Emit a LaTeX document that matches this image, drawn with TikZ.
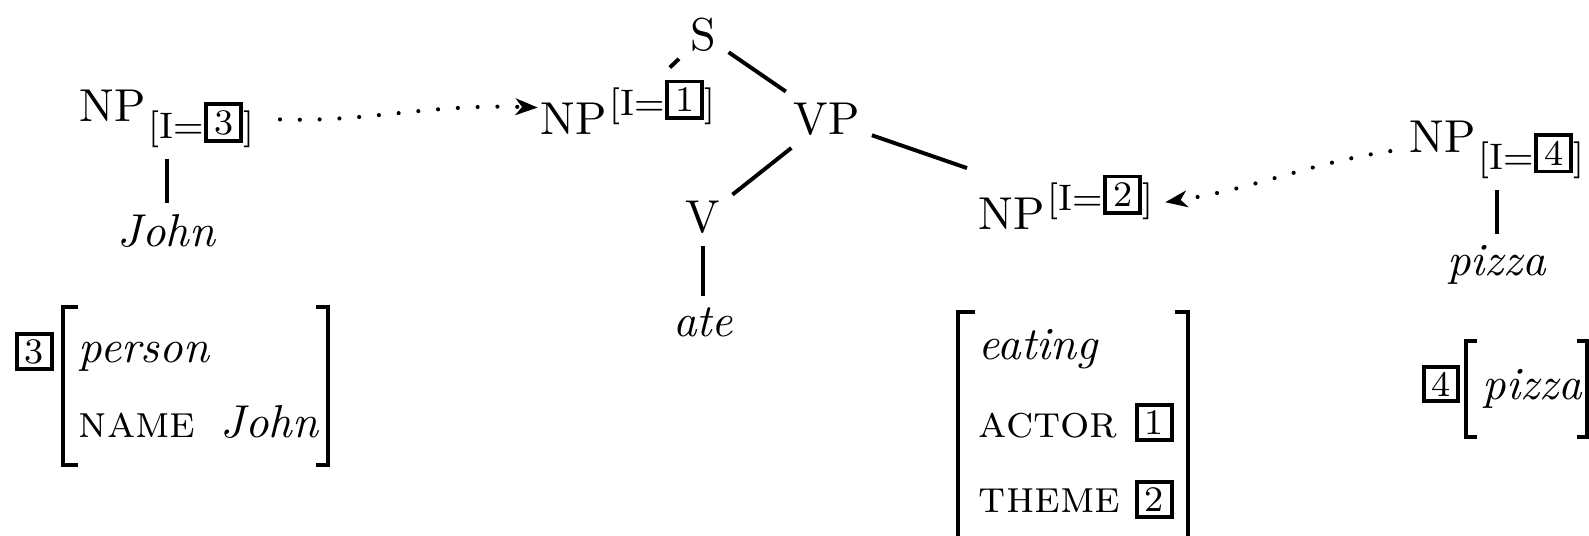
\documentclass[tikz,border=0pt]{standalone}
\usetikzlibrary{arrows.meta}
\newcommand\tagbox[1]{\raisebox{0.8pt}{\fboxsep=0.9pt\fboxrule=0.85pt\fbox{\makebox[5pt]{\fontsize{7.8}{8}\selectfont #1}}}}
\newcommand\featlab[1]{{\fontsize{8}{9}\selectfont[I=\tagbox{#1}]}}
\newcommand\NPsub[1]{NP\hspace{0.6pt}\raisebox{-3.5pt}{\featlab{#1}}}
\newcommand\NPsup[1]{NP\hspace{0.6pt}\raisebox{4.3pt}{\featlab{#1}}}
\begin{document}
\begin{tikzpicture}[x=0.217pt,y=-0.217pt,
  tn/.style={inner sep=2.4pt,anchor=base west},
  leaf/.style={inner sep=2.4pt,anchor=base},
  txt/.style={inner sep=0pt,anchor=base west},
  tagnode/.style={draw,line width=0.85pt,inner sep=0pt,minimum size=7.5pt,font=\fontsize{7.8}{8}\selectfont},
  link/.style={line width=0.85pt},
  brk/.style={line width=0.9pt},
  dotarrow/.style={line width=0.9pt,line cap=round,dash pattern=on 0pt off 4.3pt,-{Stealth[length=4.8pt,width=3.6pt,inset=1.4pt]}}]
\useasboundingbox (0,0) rectangle (1589,536);
\clip (0,0) rectangle (1589,536);
% baselines of the leaves
\coordinate (bjohn) at (0,247);
\coordinate (bate) at (0,337);
\coordinate (bpizza) at (0,276);
% tree nodes
\node[tn] (s)   at (679,51)  {S};
\node[tn] (np1) at (529,135) {\NPsup{1}};
\node[tn] (vp)  at (782,135) {VP};
\node[tn] (v)   at (674,233) {V};
\node[leaf] (ate) at (v.center |- bate) {\textit{ate}};
\node[tn] (np2) at (967,230) {\NPsup{2}};
\node[tn] (np3) at (68,122)  {\NPsub{3}};
\node[leaf] (john) at (np3.center |- bjohn) {\textit{John}};
\node[tn] (np4) at (1398,153) {\NPsub{4}};
\node[leaf] (pizza) at (np4.center |- bpizza) {\textit{pizza}};
% edges
\draw[link] (s) -- (np1);
\draw[link] (s) -- (vp);
\draw[link] (vp) -- (v);
\draw[link] (vp) -- (np2);
\draw[link] (v) -- (ate);
\draw[link] (np3) -- (john);
\draw[link] (np4) -- (pizza);
% dotted arrows
\draw[dotarrow,shorten <=3pt,shorten >=-1.9pt] (np3.east) to[out=-2,in=178] (np1.west);
\draw[dotarrow,shorten <=1.7pt] (np4.west) to[out=188.7,in=8.7] (np2.east);
% AVM for 3
\node[tagnode] (t3) at (34.5,351.5) {3};
\node[txt] (person) at (78,363) {\textit{person}};
\node[txt] (name) at (78,438) {\textsc{name}};
\node[txt] (johnv) at (220,438) {\textit{John}};
\draw[brk] (78,307) -| (63,465) -- (78,465);
\draw[brk] (316,307) -| (328,465) -- (316,465);
% AVM for eating
\node[txt] (eating) at (978,360) {\textit{eating}};
\node[txt] (actor) at (978,438) {\textsc{actor}};
\node[txt] (theme) at (978,513) {\textsc{theme}};
\node[tagnode] (t1) at (1154.5,422.5) {1};
\node[tagnode] (t2) at (1154.5,499.5) {2};
\draw[brk] (975,312) -| (958,560);
\draw[brk] (1175,312) -| (1188,560);
% AVM for pizza
\node[tagnode] (t4) at (1441,384) {4};
\node[txt] (pizzav) at (1482,400) {\textit{pizza}};
\draw[brk] (1477,341) -| (1466,437) -- (1477,437);
\draw[brk] (1577,341) -| (1587,437) -- (1577,437);
\end{tikzpicture}
\end{document}
